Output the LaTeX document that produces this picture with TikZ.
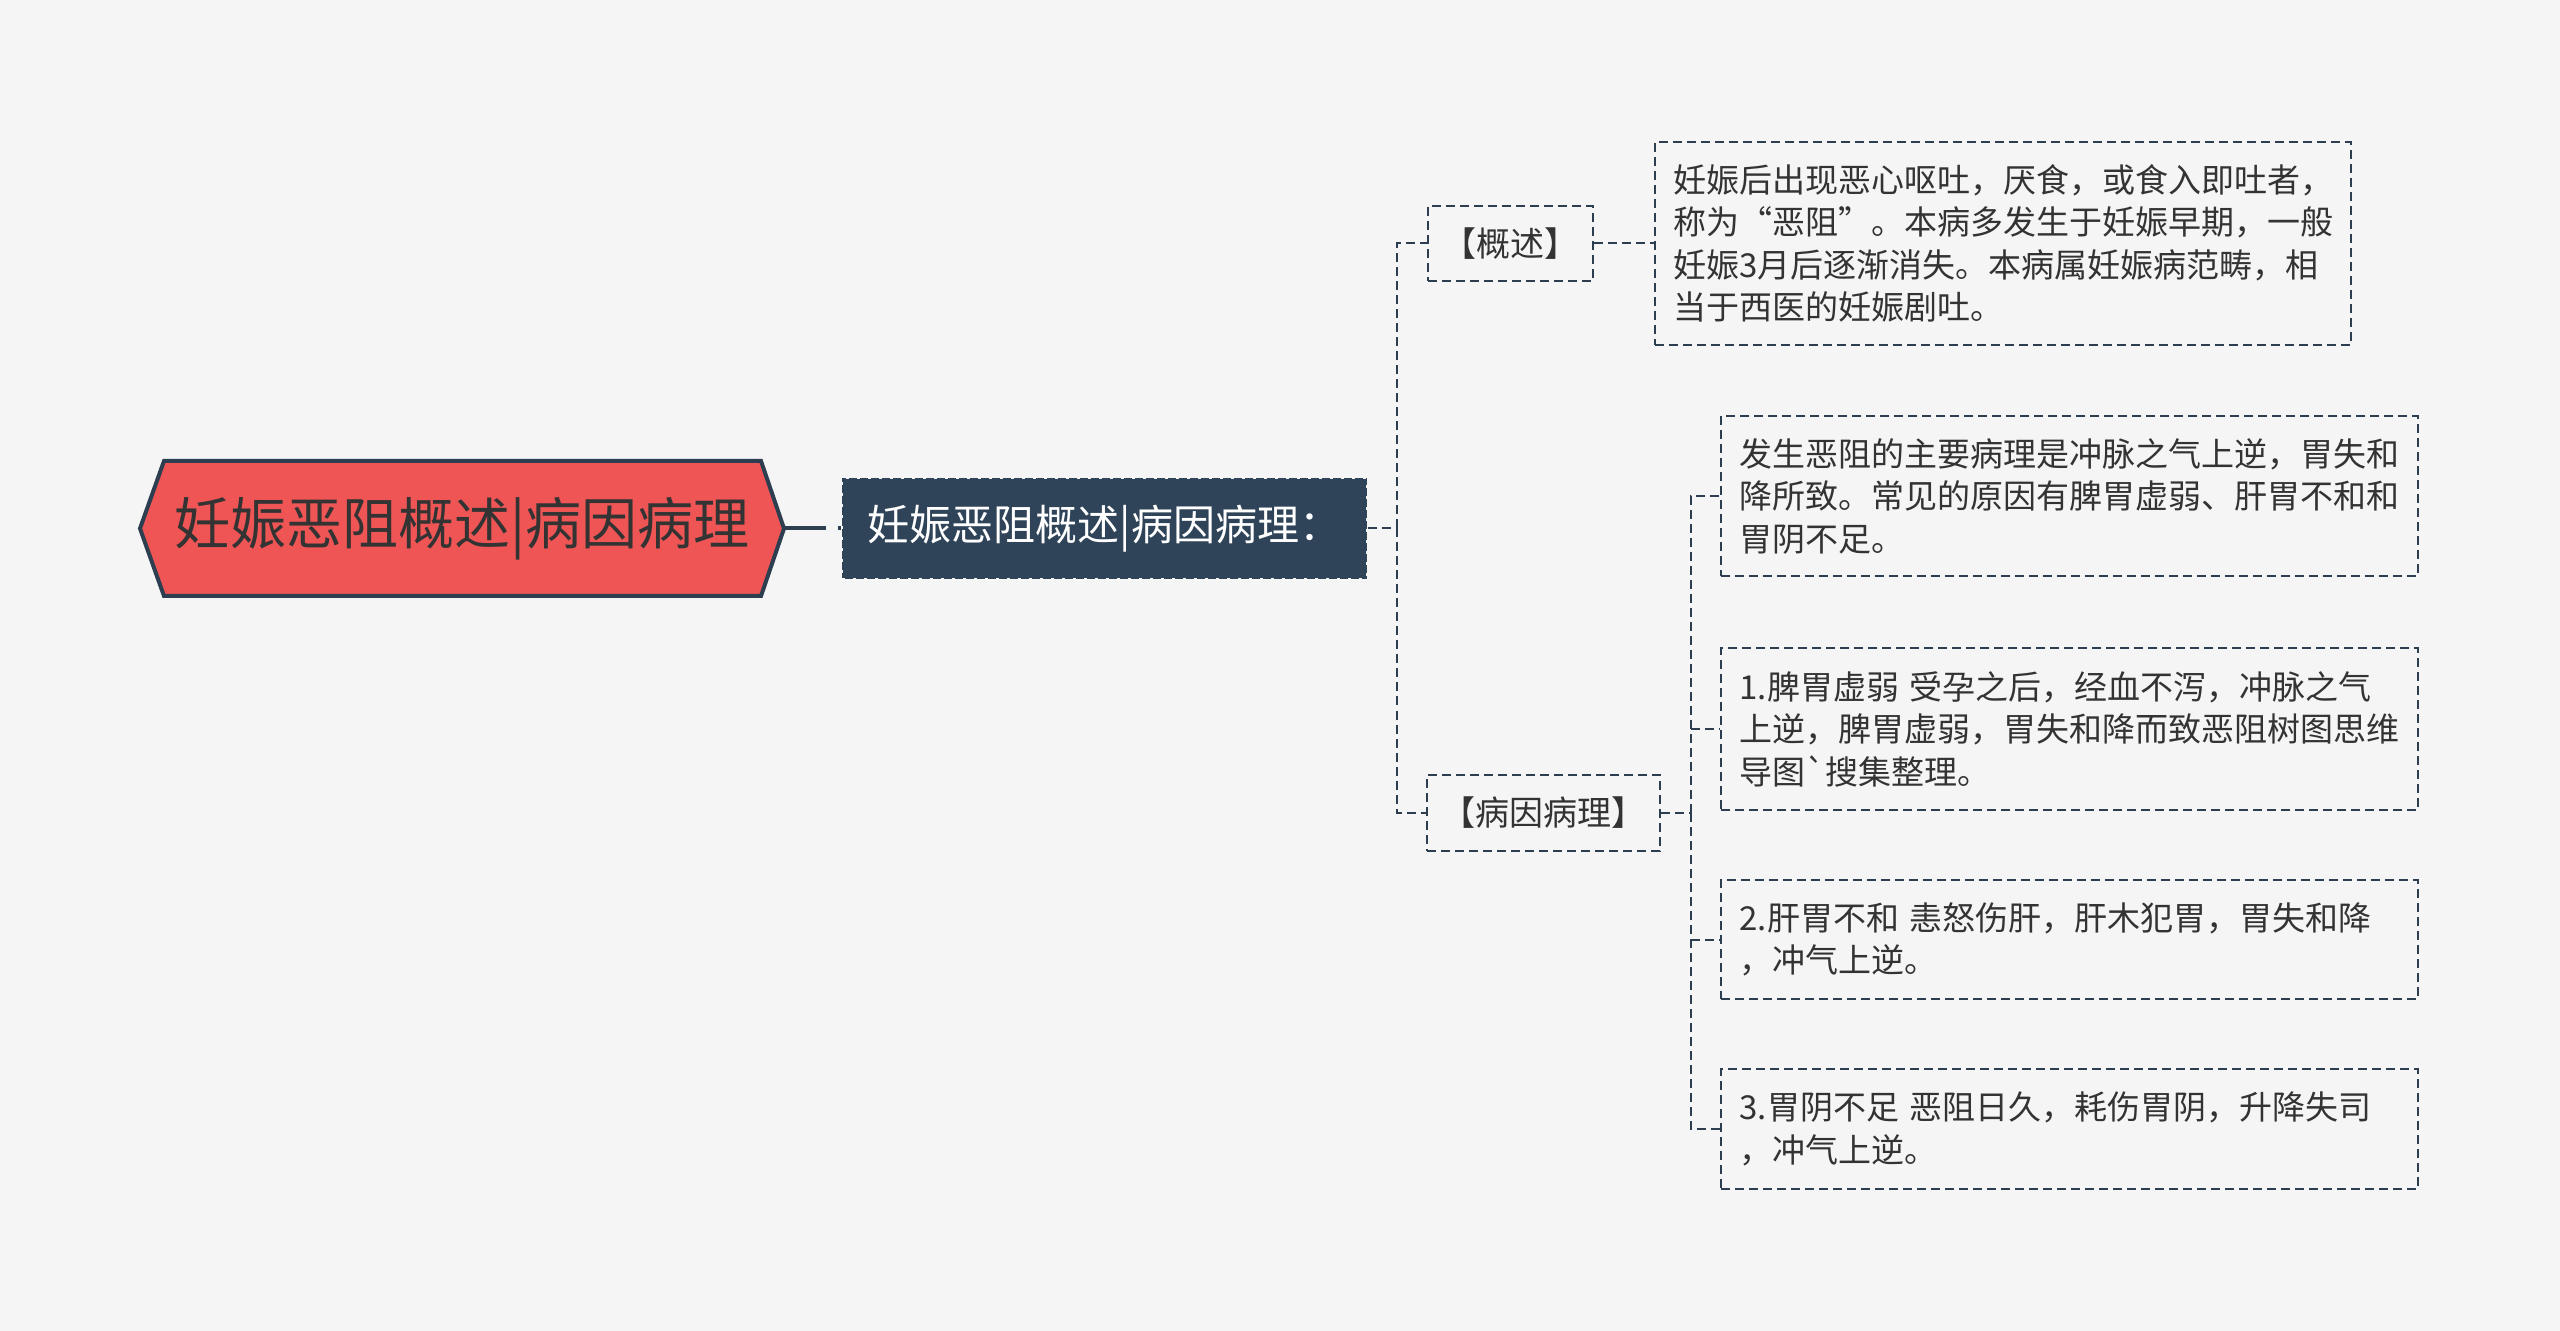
\documentclass[tikz,border=0pt]{standalone}
\usepackage{fontspec}
\newfontfamily\cjk{Noto Sans CJK SC}
\definecolor{bg}{HTML}{F5F5F5}
\definecolor{lc}{HTML}{2C3E50}
\definecolor{tc}{HTML}{333333}
\definecolor{rootfill}{HTML}{EF5555}
\definecolor{midfill}{HTML}{2F4459}
\tikzset{
  conn/.style={draw=lc, line width=1pt, dash pattern=on 4.5pt off 2.5pt},
  rootconn/.style={draw=lc, line width=2pt, dash pattern=on 21pt off 6pt},
  leafbox/.style={draw=lc, line width=1pt, dash pattern=on 4.5pt off 2.5pt, text=tc,
    font=\cjk\fontsize{16.5}{21.25}\selectfont, align=left, inner sep=0pt,
    text width=330pt, minimum width=348.5pt},
  labelbox/.style={draw=lc, line width=1pt, dash pattern=on 4.5pt off 2.5pt, text=tc,
    font=\cjk\fontsize{17}{20}\selectfont, inner sep=0pt, minimum height=37.5pt},
  midbox/.style={fill=midfill, draw=bg, line width=0.6pt, dash pattern=on 1.5pt off 4pt,
    text=white, font=\cjk\fontsize{21}{24}\selectfont, inner sep=0pt,
    minimum width=262.5pt, minimum height=50.5pt},
  roottext/.style={text=tc, font=\cjk\fontsize{28}{32}\selectfont, inner sep=0pt,
    minimum width=322pt, minimum height=67.5pt},
  rootshape/.style={fill=rootfill, draw=lc, line width=2pt, line join=miter}
}
\begin{document}
\begin{tikzpicture}[x=0.5pt, y=-0.5pt]
\useasboundingbox (0,0) rectangle (2560,1331);
\fill[bg] (0,0) rectangle (2560,1331);

% root hexagon
\draw[rootshape] (140,528.5) -- (164,461) -- (761,461) -- (784,528.5) -- (761,596) -- (164,596) -- cycle;
\node[roottext] (root) at (462,528.5) {妊娠恶阻概述|病因病理};

\node[midbox] (mid) at (1104.5,528.5) {妊娠恶阻概述|病因病理：};

\node[labelbox, minimum width=82.5pt] (gs) at (1510.5,243.5) {【概述】};
\node[labelbox, minimum width=116.5pt, minimum height=38pt] (bl) at (1543.5,813) {【病因病理】};

\node[leafbox, minimum width=348pt, minimum height=101.5pt] (gt) at (2003,243.5)
  {妊娠后出现恶心呕吐，厌食，或食入即吐者，\\称为“恶阻”。本病多发生于妊娠早期，一般\\妊娠3月后逐渐消失。本病属妊娠病范畴，相\\当于西医的妊娠剧吐。};

\node[leafbox, minimum height=80pt] (la) at (2069.5,496)
  {发生恶阻的主要病理是冲脉之气上逆，胃失和\\降所致。常见的原因有脾胃虚弱、肝胃不和和\\胃阴不足。};
\node[leafbox, minimum height=81pt] (l1) at (2069.5,729)
  {1.脾胃虚弱 受孕之后，经血不泻，冲脉之气\\上逆，脾胃虚弱，胃失和降而致恶阻树图思维\\导图\char96 搜集整理。};
\node[leafbox, minimum height=59.5pt] (l2) at (2069.5,939.5)
  {2.肝胃不和 恚怒伤肝，肝木犯胃，胃失和降\\，冲气上逆。};
\node[leafbox, minimum height=60pt] (l3) at (2069.5,1129)
  {3.胃阴不足 恶阻日久，耗伤胃阴，升降失司\\，冲气上逆。};

% connectors
\draw[rootconn] (root.east) -- (mid.west);
\coordinate (j1) at (1397,528.5);
\draw[conn] (mid.east) -- (j1);
\draw[conn] (j1) |- (gs.west);
\draw[conn] (j1) |- (bl.west);
\draw[conn] (gs.east) -- (gt.west);
\coordinate (j2) at (1691,813);
\draw[conn] (bl.east) -- (j2);
\draw[conn] (j2) |- (la.west);
\draw[conn] (j2) |- (l1.west);
\draw[conn] (j2) |- (l2.west);
\draw[conn] (j2) |- (l3.west);
\end{tikzpicture}
\end{document}
